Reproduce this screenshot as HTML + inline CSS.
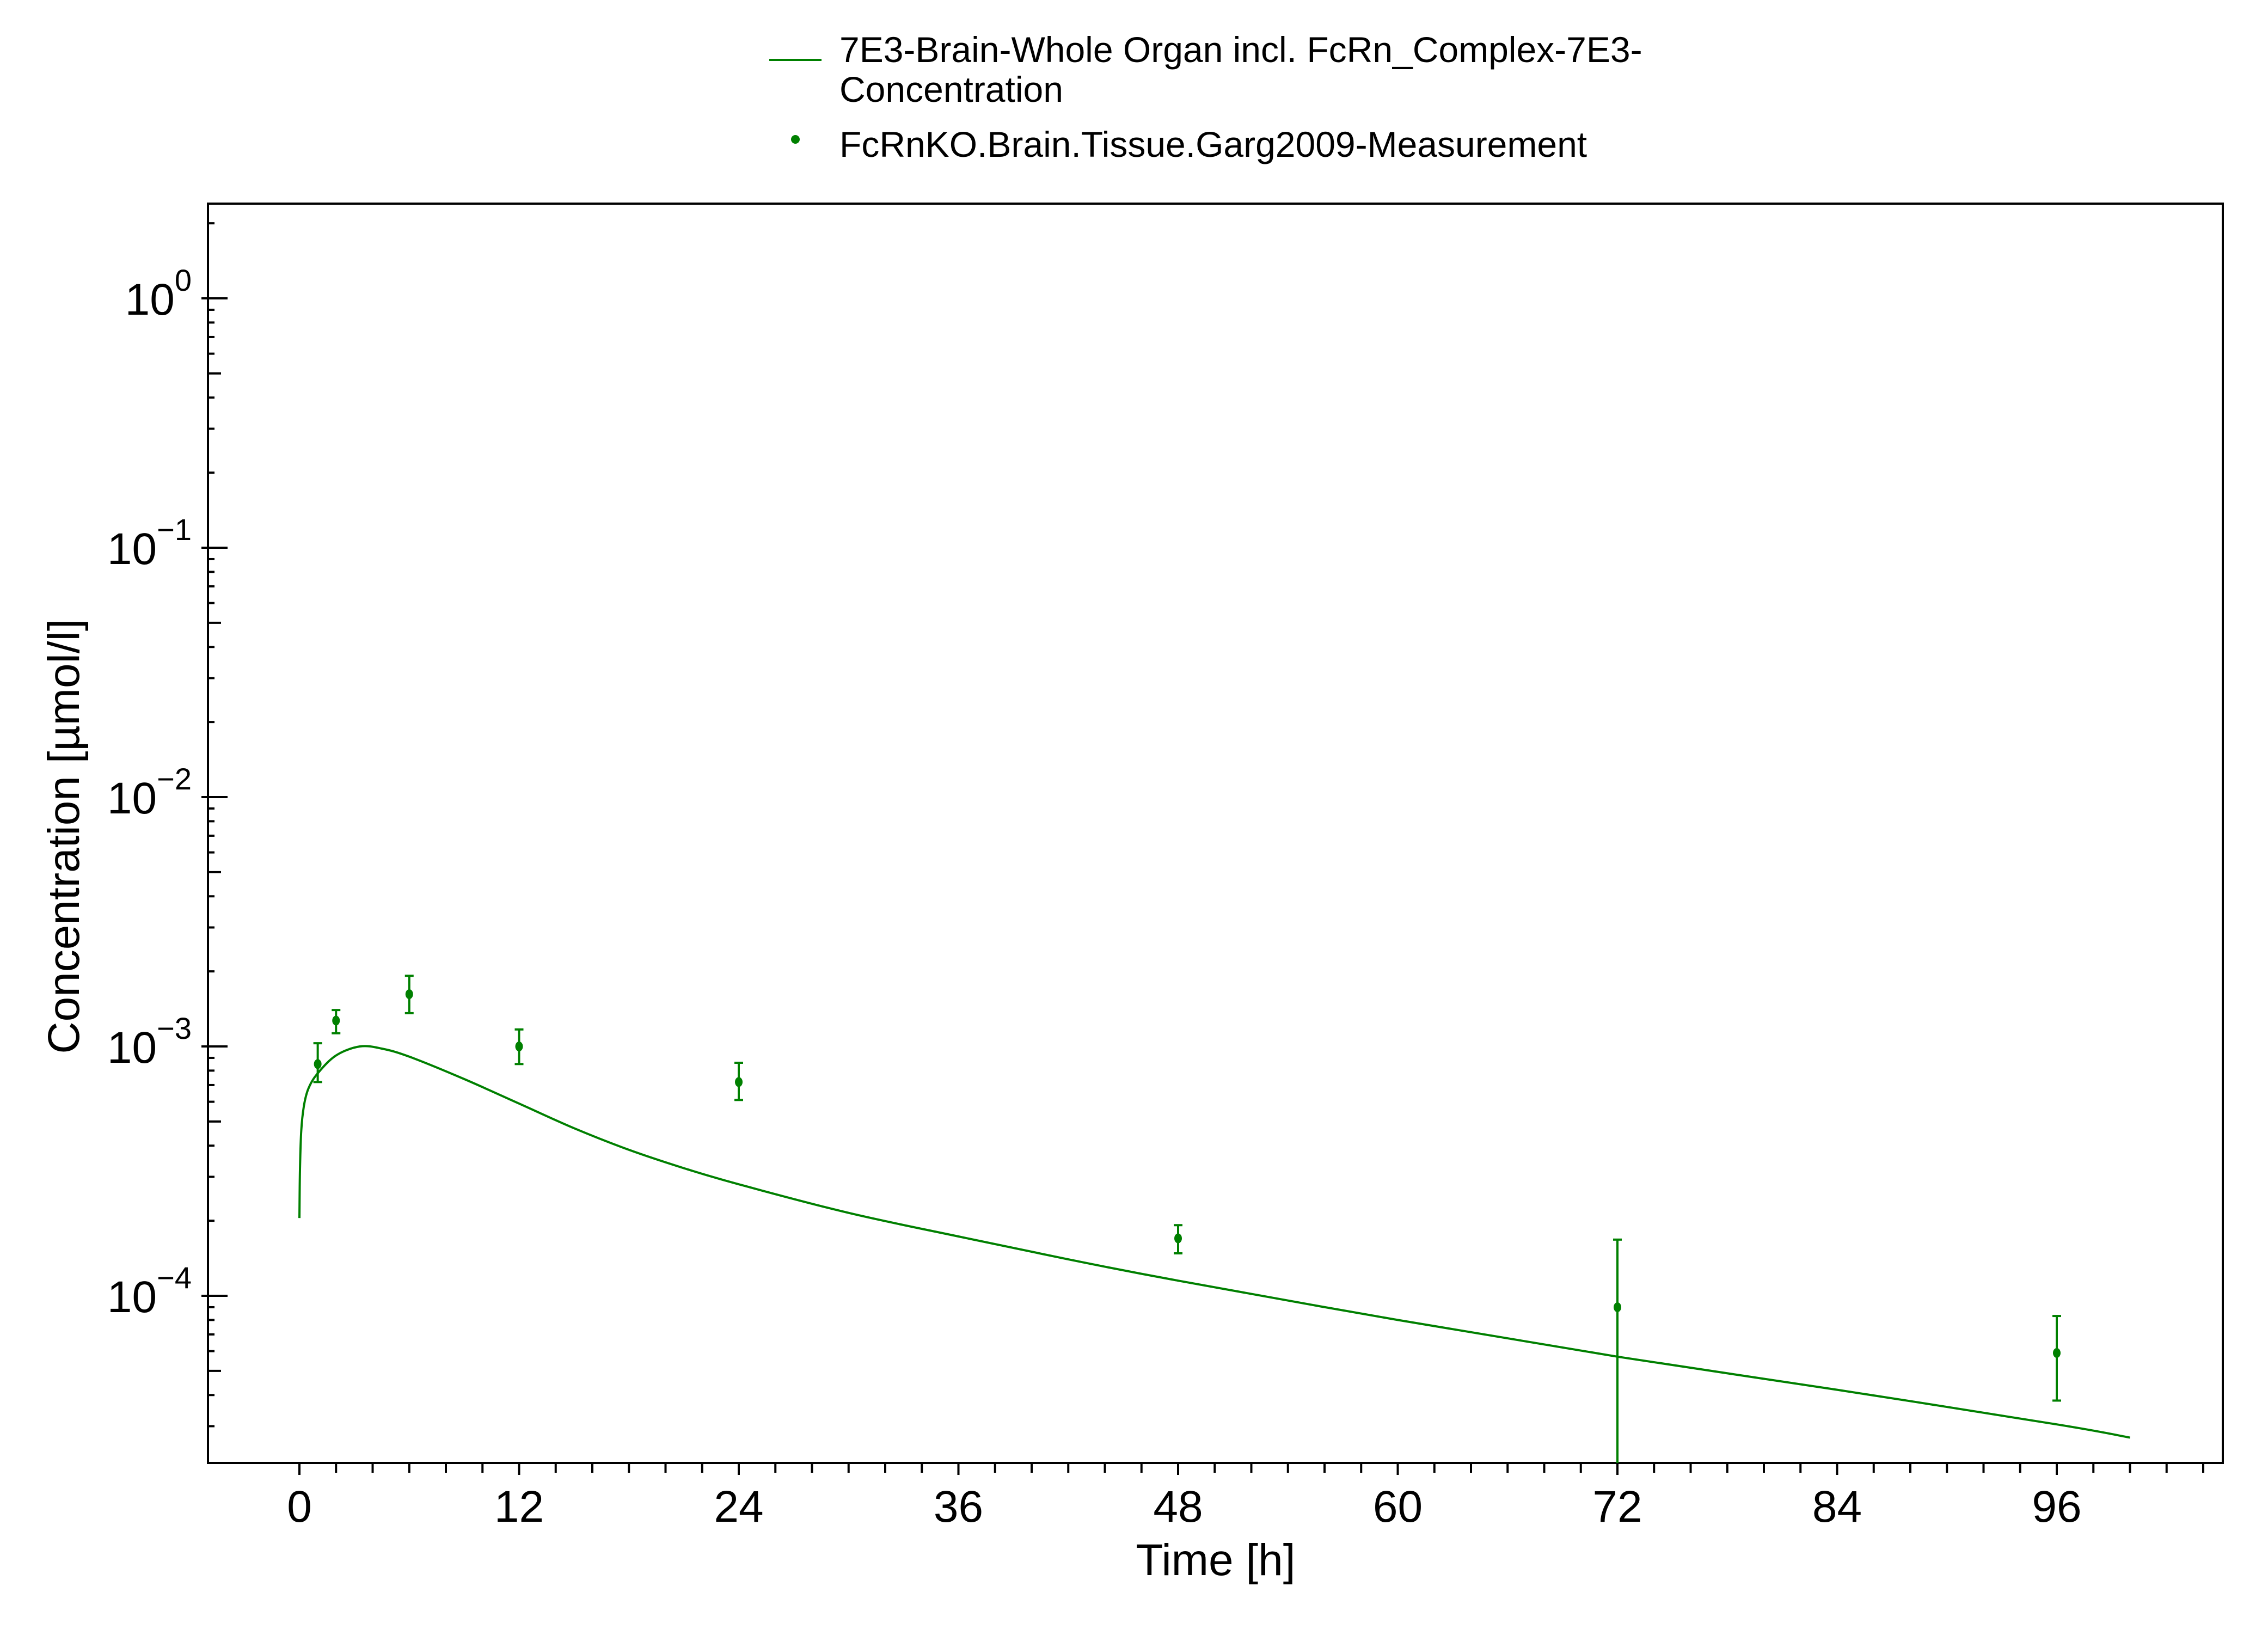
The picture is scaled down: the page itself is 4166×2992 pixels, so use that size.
<!DOCTYPE html>
<html><head><meta charset="utf-8"><style>
html,body{margin:0;padding:0;background:#fff;}
svg{display:block;font-family:"Liberation Sans",Arial,sans-serif;}
</style></head><body>
<svg id="chart" width="4166" height="2992" viewBox="0 0 4166 2992" xmlns="http://www.w3.org/2000/svg">
<rect x="0" y="0" width="4166" height="2992" fill="#fff"/>
<g id="legend">
  <g>
    <line x1="1413" y1="110" x2="1509" y2="110" stroke="#008000" stroke-width="4"/>
    <text x="1542" y="114" font-size="66" fill="#000">7E3-Brain-Whole Organ incl. FcRn_Complex-7E3-</text>
    <text x="1542" y="187" font-size="66" fill="#000">Concentration</text>
  </g>
  <g>
    <circle cx="1461" cy="256" r="8" fill="#008000"/>
    <text x="1542" y="288" font-size="66" fill="#000">FcRnKO.Brain.Tissue.Garg2009-Measurement</text>
  </g>
</g>
<g id="axes"></g>
<g id="marks"></g>
<text x="2233" y="2893" font-size="82" text-anchor="middle">Time [h]</text>
<text transform="translate(145,1536) rotate(-90)" font-size="82" text-anchor="middle">Concentration [µmol/l]</text>
</svg>
<script>
const xTicks = [0,12,24,36,48,60,72,84,96];
const yDecades = [0,-1,-2,-3,-4];
const simTime = [0,0.03,0.1,0.25,0.5,1,2,3.3,4.5,6,9,12,15,18,21,24,30,36,42,48,60,72,84,96,100];
const simConc = [2.05e-4,3.2e-4,4.6e-4,5.8e-4,6.8e-4,7.8e-4,9.2e-4,1.0e-3,9.8e-4,9.1e-4,7.4e-4,5.9e-4,4.7e-4,3.85e-4,3.25e-4,2.8e-4,2.15e-4,1.73e-4,1.4e-4,1.15e-4,8.0e-5,5.7e-5,4.2e-5,3.05e-5,2.7e-5];
const obsTime = [1,2,6,12,24,48,72,96];
const obsConc = [8.5e-4,1.27e-3,1.62e-3,1.0e-3,7.2e-4,1.7e-4,9.0e-5,5.9e-5];
const obsUpper = [1.03e-3,1.4e-3,1.92e-3,1.17e-3,8.6e-4,1.92e-4,1.68e-4,8.3e-5];
const obsLower = [7.2e-4,1.13e-3,1.36e-3,8.5e-4,6.1e-4,1.48e-4,1e-7,3.8e-5];

const L=382,R=4083,T=374,B=2687;
const x0=550, pxPerH=(3778-550)/96;
const y0=548, pxPerDec=458;
const X=t=>x0+t*pxPerH;
const Y=v=>Math.min(B, Math.max(T, y0-Math.log10(v)*pxPerDec));
const NS="http://www.w3.org/2000/svg";
const axes=document.getElementById('axes'), marks=document.getElementById('marks');
function mk(tag,attrs,parent){const e=document.createElementNS(NS,tag);for(const k in attrs)e.setAttribute(k,attrs[k]);parent.appendChild(e);return e;}

const frame=mk('rect',{x:L,y:T,width:R-L,height:B-T,fill:'none',stroke:'#000','stroke-width':4},axes);



for(let t=0;t<=104;t+=2){
  if(X(t)>R)continue;
  const major=t%12===0;
  const tk=mk('line',{x1:X(t),y1:B,x2:X(t),y2:B+(major?22:18),stroke:'#000','stroke-width':4},axes);
  
  
}
xTicks.forEach(t=>{
  const tx=mk('text',{x:X(t),y:2795,'font-size':82,'text-anchor':'middle'},axes);
  tx.textContent=t;
  
  
});
for(let d=1;d>=-5;d--){
  for(let m=1;m<=9;m++){
    const v=m*Math.pow(10,d);
    const y=y0-Math.log10(v)*pxPerDec;
    if(y<T||y>B)continue;
    const len=m===1?36:(m===5?24:12);
    const tk=mk('line',{x1:m===1?L-12:L,y1:y,x2:L+len,y2:y,stroke:'#000','stroke-width':4},axes);
    
    
  }
}
yDecades.forEach(d=>{
  const y=y0-d*pxPerDec;
  const tx=mk('text',{x:352,y:y+30,'font-size':82,'text-anchor':'end'},axes);
  
  
  const b=mk('tspan',{},tx); b.textContent='10';
  const s=mk('tspan',{dy:-44,'font-size':56}, tx); s.textContent=(d<0?'\u2212'+(-d):String(d));
});

const pts=simTime.map((t,i)=>[X(t),Y(simConc[i])]);
let dstr='M'+pts[0][0].toFixed(1)+','+pts[0][1].toFixed(1);
for(let i=0;i<pts.length-1;i++){
  const p0=pts[Math.max(0,i-1)],p1=pts[i],p2=pts[i+1],p3=pts[Math.min(pts.length-1,i+2)];
  const c1=[p1[0]+(p2[0]-p0[0])/6,p1[1]+(p2[1]-p0[1])/6];
  const c2=[p2[0]-(p3[0]-p1[0])/6,p2[1]-(p3[1]-p1[1])/6];
  dstr+='C'+c1[0].toFixed(1)+','+c1[1].toFixed(1)+' '+c2[0].toFixed(1)+','+c2[1].toFixed(1)+' '+p2[0].toFixed(1)+','+p2[1].toFixed(1);
}
const path=mk('path',{d:dstr,fill:'none',stroke:'#008000','stroke-width':4},marks);



obsTime.forEach((t,i)=>{
  const g=mk('g',{},marks);
  
  
  const x=X(t), yu=Y(obsUpper[i]), yl=Y(obsLower[i]);
  mk('line',{x1:x,y1:yu,x2:x,y2:yl,stroke:'#008000','stroke-width':4},g);
  mk('line',{x1:x-8,y1:yu,x2:x+8,y2:yu,stroke:'#008000','stroke-width':4},g);
  if(yl<B) mk('line',{x1:x-8,y1:yl,x2:x+8,y2:yl,stroke:'#008000','stroke-width':4},g);
  mk('ellipse',{cx:x,cy:Y(obsConc[i]),rx:7,ry:9,fill:'#008000'},g);
});
</script>
</body></html>
